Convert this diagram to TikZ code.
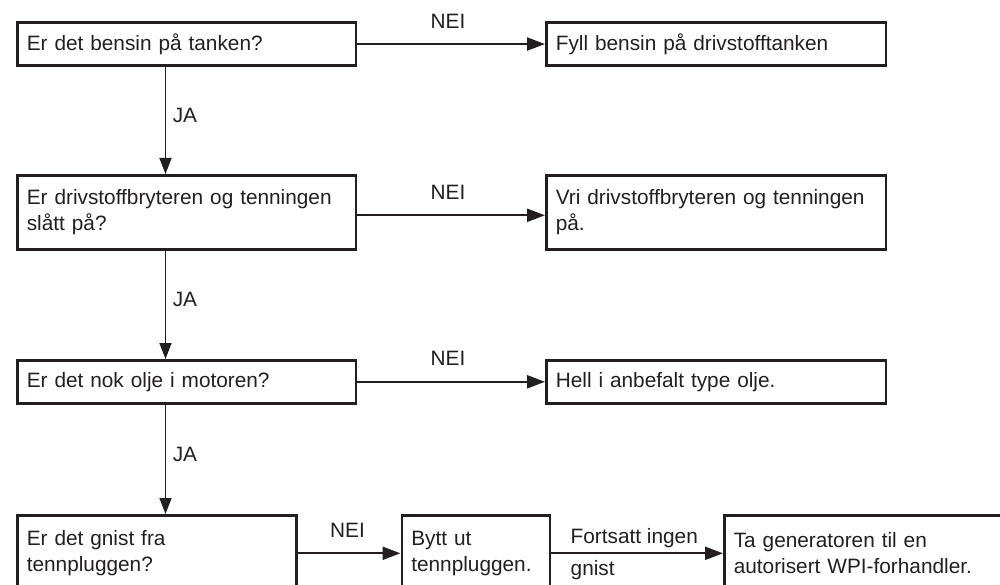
\documentclass[tikz,border=0pt]{standalone}
\usepackage{fontspec}
\setmainfont{Liberation Sans}
\usetikzlibrary{arrows.meta}
\definecolor{ink}{RGB}{35,31,32}
\begin{document}
\begin{tikzpicture}[x=1pt,y=1pt,
  box/.style={draw=ink, line width=2.6pt, rectangle, anchor=north west, inner xsep=9.5pt, inner ysep=0pt, align=left, text=ink, font=\fontsize{20.8}{26}\selectfont},
  harr/.style={draw=ink, line width=2.2pt, -{Triangle[length=18pt,width=13pt]}},
  varr/.style={draw=ink, line width=1.5pt, -{Triangle[length=16pt,width=12pt]}},
  lbl/.style={text=ink, inner sep=0pt, font=\fontsize{20.8}{26}\selectfont},
  nei/.style={lbl, anchor=base, yshift=16pt},
  ja/.style={lbl, anchor=base west, xshift=6.5pt, yshift=-2pt},
]
\useasboundingbox (0,0) rectangle (1000,584);
\clip (0,0) rectangle (1000,584);

% left column
\node[box, minimum width=338.5pt, minimum height=43.5pt, text width=319.5pt] (b1) at (16,563) {Er det bensin på tanken?};
\node[box, minimum width=338.5pt, minimum height=74pt, text width=319.5pt] (b2) at (16,410) {Er drivstoffbryteren og tenningen\\slått på?};
\node[box, minimum width=338.5pt, minimum height=43pt, text width=319.5pt] (b3) at (16,225) {Er det nok olje i motoren?};
\node[box, minimum width=279pt, minimum height=76pt, text width=260pt] (b4) at (16,70) {Er det gnist fra\\tennpluggen?};

% right column
\node[box, minimum width=339.5pt, minimum height=43.5pt, text width=320.5pt] (r1) at (545,563) {Fyll bensin på drivstofftanken};
\node[box, minimum width=339.5pt, minimum height=74pt, text width=320.5pt] (r2) at (545,410) {Vri drivstoffbryteren og tenningen\\på.};
\node[box, minimum width=339.5pt, minimum height=43pt, text width=320.5pt] (r3) at (545,225) {Hell i anbefalt type olje.};

% bottom row
\node[box, minimum width=148pt, minimum height=76pt, text width=129pt] (b5) at (400.5,70) {Bytt ut\\tennpluggen.};
\node[box, minimum width=310pt, minimum height=76pt, text width=291pt] (b6) at (723,70) {Ta generatoren til en\\autorisert WPI-forhandler.};

% NEI connectors
\draw[harr] (b1.east) -- node[nei, xshift=-3pt]{NEI} (r1.west);
\draw[harr] ([yshift=-3pt]b2.east) -- node[nei, xshift=-3pt]{NEI} ([yshift=-3pt]r2.west);
\draw[harr] (b3.east) -- node[nei, xshift=-3pt]{NEI} (r3.west);
\draw[harr] (b4.east) -- node[nei, xshift=-1.5pt]{NEI} (b5.west);
\draw[harr] (b5.east) --
  node[pos=0, lbl, anchor=base west, xshift=18.5pt, yshift=9.7pt]{Fortsatt ingen}
  node[pos=0, lbl, anchor=base west, xshift=18.5pt, yshift=-22.3pt]{gnist}
  (b6.west);

% JA connectors
\coordinate (vx) at (165.5,0);
\draw[varr] (b1.south -| vx) -- node[ja]{JA} (b2.north -| vx);
\draw[varr] (b2.south -| vx) -- node[ja]{JA} (b3.north -| vx);
\draw[varr] (b3.south -| vx) -- node[ja]{JA} (b4.north -| vx);
\end{tikzpicture}
\end{document}
